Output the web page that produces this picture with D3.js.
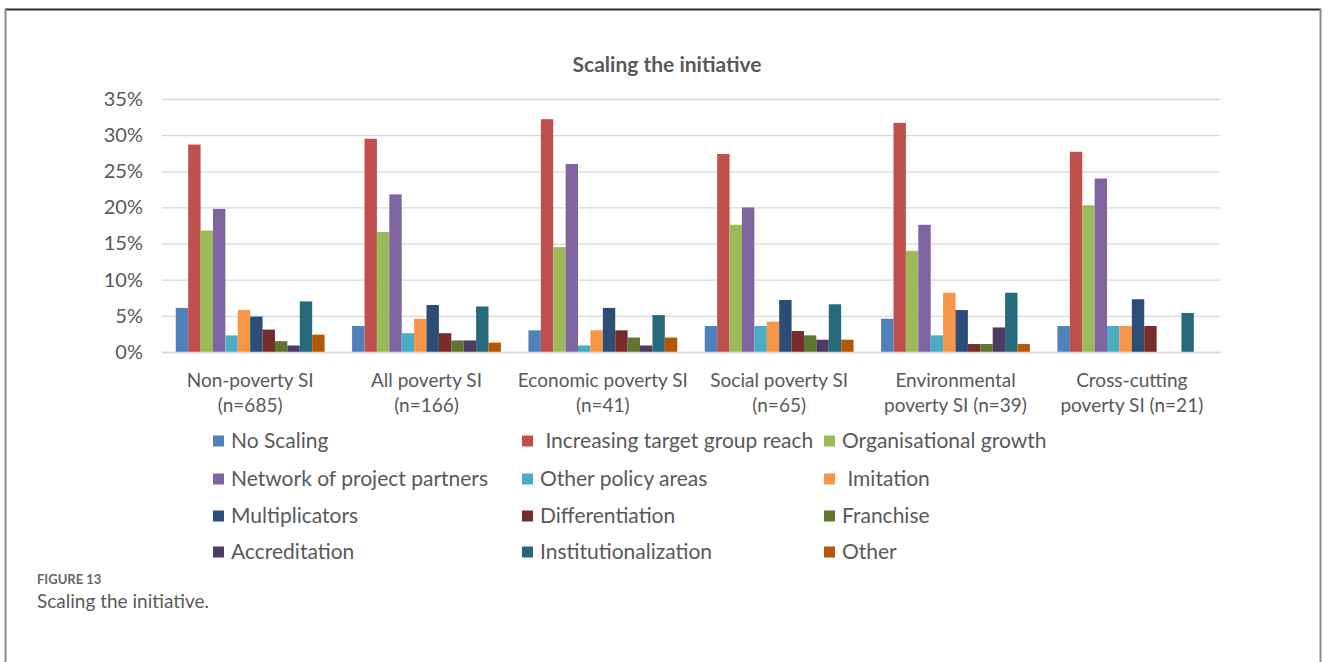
<!DOCTYPE html>
<html>
<head>
<meta charset="utf-8">
<script src="https://cdn.jsdelivr.net/npm/d3@7"></script>
<style>
  html, body { margin: 0; padding: 0; background: #fff; }
  svg { display: block; }
  text { white-space: pre; }
</style>
</head>
<body>
<svg id="chart" width="1328" height="662"></svg>
<script>
// Groups of social innovations (x-axis categories, two lines each)
const categories = [
  ["Non-poverty SI", "(n=685)"],
  ["All poverty SI", "(n=166)"],
  ["Economic poverty SI", "(n=41)"],
  ["Social poverty SI", "(n=65)"],
  ["Environmental", "poverty SI (n=39)"],
  ["Cross-cutting", "poverty SI (n=21)"]
];

// Scaling types (legend order)
const seriesNames = [
  "No Scaling", " Increasing target group reach", "Organisational growth",
  "Network of project partners", "Other policy areas", " Imitation",
  "Multiplicators", "Differentiation", "Franchise",
  "Accreditation", "Institutionalization", "Other"
];

// Share (%) per scaling type, one array per category
const nonPoverty    = [6.1, 28.7, 16.8, 19.8, 2.3, 5.8, 4.9, 3.1, 1.5, 0.9, 7.0, 2.4];
const allPoverty    = [3.6, 29.5, 16.6, 21.8, 2.6, 4.6, 6.5, 2.6, 1.6, 1.6, 6.3, 1.3];
const economicPov   = [3.0, 32.2, 14.5, 26.0, 0.9, 3.0, 6.1, 3.0, 2.0, 0.9, 5.1, 2.0];
const socialPov     = [3.6, 27.4, 17.6, 20.0, 3.6, 4.2, 7.2, 2.9, 2.3, 1.7, 6.6, 1.7];
const environPov    = [4.6, 31.7, 14.0, 17.6, 2.3, 8.2, 5.8, 1.1, 1.1, 3.4, 8.2, 1.1];
const crossCutting  = [3.6, 27.7, 20.3, 24.0, 3.6, 3.6, 7.3, 3.6, 0.0, 0.0, 5.4, 0.0];
const values = [nonPoverty, allPoverty, economicPov, socialPov, environPov, crossCutting];

const yTicks = [0, 5, 10, 15, 20, 25, 30, 35];

const colors = [
  "#4F81BD", "#C0504D", "#9BBB59", "#8064A2", "#4BACC6", "#F79646",
  "#2C4D75", "#772C2A", "#5F7530", "#4D3B62", "#276A7C", "#B65708"
];

const svg = d3.select("#chart");
const font = "Lato, 'Open Sans', sans-serif";
const textColor = "#595959";

// Outer figure frame
svg.append("line").attr("x1", 5).attr("x2", 1321).attr("y1", 9.5).attr("y2", 9.5)
  .attr("stroke", "#2b2b2b").attr("stroke-width", 2);
svg.append("line").attr("x1", 5.5).attr("x2", 5.5).attr("y1", 9).attr("y2", 662)
  .attr("stroke", "#8a8a8a").attr("stroke-width", 2);
svg.append("line").attr("x1", 1320.5).attr("x2", 1320.5).attr("y1", 9).attr("y2", 662)
  .attr("stroke", "#8a8a8a").attr("stroke-width", 2);

// Title
svg.append("text").attr("x", 667).attr("y", 72).attr("text-anchor", "middle")
  .attr("font-family", font).attr("font-weight", 700).attr("font-size", 21)
  .attr("fill", textColor).text("Scaling the initiative");

// Scales
const plot = { left: 162, right: 1220, top: 99, bottom: 352 };
const x0 = d3.scaleBand().domain(d3.range(categories.length))
  .range([plot.left, plot.right]).paddingInner(0).paddingOuter(0);
const x1 = d3.scaleBand().domain(d3.range(seriesNames.length))
  .range([0, x0.bandwidth()]).paddingInner(0).paddingOuter(1.11);
const y = d3.scaleLinear().domain([0, 35]).range([plot.bottom, plot.top]);

// Gridlines and percentage ticks
const yAxis = d3.axisLeft(y).tickValues(yTicks).tickFormat(d => d + "%")
  .tickSize(-(plot.right - plot.left)).tickPadding(19);
const yg = svg.append("g").attr("transform", `translate(${plot.left},0)`).call(yAxis);
yg.select(".domain").remove();
yg.selectAll(".tick line").attr("stroke", "#d9d9d9").attr("stroke-width", 1.3);
yg.selectAll(".tick text").attr("font-family", font).attr("font-size", 20)
  .attr("fill", textColor);

// Bars
const groups = svg.append("g").selectAll("g").data(values).join("g")
  .attr("transform", (d, i) => `translate(${x0(i)},0)`);
groups.selectAll("rect").data(d => d.map((v, k) => ({ v, k }))).join("rect")
  .attr("x", d => x1(d.k))
  .attr("width", x1.bandwidth())
  .attr("y", d => y(d.v))
  .attr("height", d => y(0) - y(d.v))
  .attr("fill", d => colors[d.k]);

// Category labels
const xAxis = d3.axisBottom(x0).tickSize(0).tickFormat(() => "");
const xg = svg.append("g").attr("transform", `translate(0,${plot.bottom})`).call(xAxis);
xg.select(".domain").attr("stroke", "#d9d9d9").attr("stroke-width", 1.3);
xg.selectAll(".tick").each(function (i) {
  const t = d3.select(this).append("text")
    .attr("font-family", font).attr("font-size", 19).attr("fill", textColor)
    .attr("text-anchor", "middle");
  categories[i].forEach((line, j) => {
    t.append("tspan").attr("x", 0).attr("y", 35 + j * 25).text(line);
  });
});

// Legend (3 columns x 4 rows)
const legendCols = [213, 522, 824];
const legendRows = [441, 479, 516, 552];
const legend = svg.append("g").selectAll("g").data(seriesNames).join("g")
  .attr("transform", (d, i) => `translate(${legendCols[i % 3]},${legendRows[Math.floor(i / 3)]})`);
legend.append("rect").attr("x", 0).attr("y", -5.5).attr("width", 11).attr("height", 11)
  .attr("fill", (d, i) => colors[i]);
legend.append("text").attr("x", 18).attr("y", 0).attr("dy", "0.35em")
  .attr("font-family", font).attr("font-size", 21).attr("fill", textColor)
  .text(d => d);

// Figure caption
svg.append("text").attr("x", 37).attr("y", 584)
  .attr("font-family", font).attr("font-weight", 700).attr("font-size", 13)
  .attr("fill", "#666").text("FIGURE 13");
svg.append("text").attr("x", 37).attr("y", 608)
  .attr("font-family", font).attr("font-size", 19)
  .attr("fill", "#5a5a5a").text("Scaling the initiative.");
</script>
</body>
</html>
